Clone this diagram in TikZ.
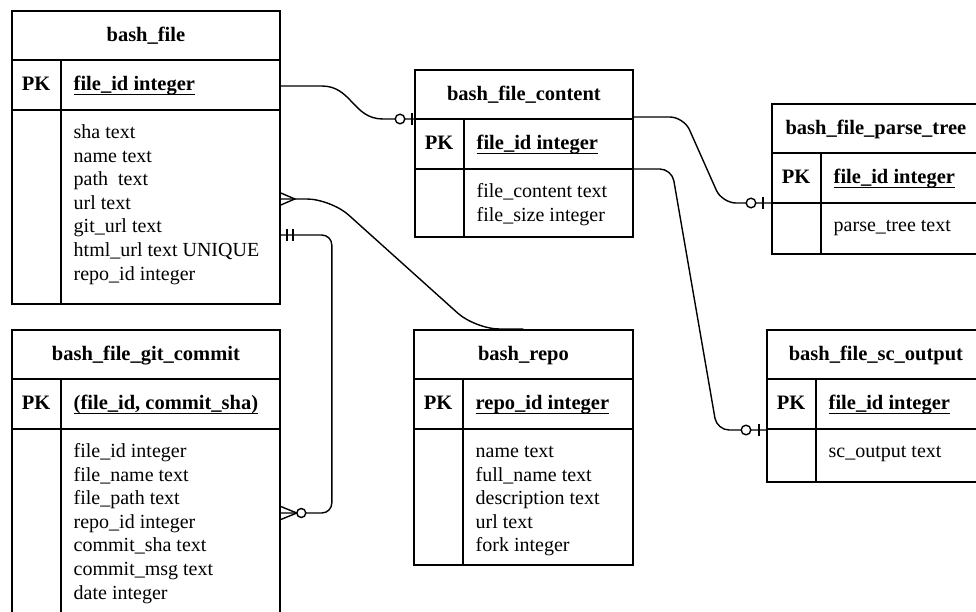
\documentclass[tikz,border=0pt]{standalone}
\usepackage{fontspec}
\setmainfont{Liberation Serif}
\usetikzlibrary{calc}
\tikzset{
  tbl/.style={draw, line width=1.8pt, inner sep=0pt, anchor=north west, fill=white},
  tline/.style={line width=1.8pt},
  ttl/.style={inner sep=0pt, anchor=base, font=\fontsize{20.5}{24}\selectfont\bfseries},
  pkf/.style={inner sep=0pt, anchor=base west, font=\fontsize{20.5}{24}\selectfont\bfseries},
  fld/.style={inner sep=0pt, anchor=base west, font=\fontsize{20}{24}\selectfont},
  conn/.style={line width=1.4pt},
  uline/.style={line width=1.4pt},
}
\newcommand\ertable[8]{%
  \node[tbl, minimum width=#4, minimum height=#5] (#1) at (#2,#3) {};
  \draw[tline] ([yshift=-50pt]#1.north west) -- ([yshift=-50pt]#1.north east);
  \draw[tline] ([yshift=-100pt]#1.north west) -- ([yshift=-100pt]#1.north east);
  \draw[tline] ([xshift=50pt,yshift=-50pt]#1.north west) -- ([xshift=50pt]#1.south west);
  \node[ttl] (#1-t) at ([yshift=-31.5pt]#1.north) {#6};
  \node[ttl] (#1-pk) at ([xshift=25pt,yshift=-80.5pt]#1.north west) {PK};
  \node[pkf] (#1-k) at ([xshift=62.5pt,yshift=-80.5pt]#1.north west) {#7};
  \draw[uline] ([yshift=-4pt]#1-k.base west) -- ([yshift=-4pt]#1-k.base east);
  \foreach \l [count=\i] in {#8}
    \node[fld] (#1-f\i) at ([xshift=62.5pt,yshift={-128.5pt-(\i-1)*23.6pt}]#1.north west) {\l};
}
\begin{document}
\begin{tikzpicture}[x=1pt,y=-1pt]
\useasboundingbox (0,0) rectangle (976,612);
\fill[white] (0,0) rectangle (976,612);
\clip (0,0) rectangle (976,612);

\ertable{bf}{11}{10}{268}{293}{bash\_file}{file\_id integer}{sha text, name text, path\ \ text, url text, git\_url text, html\_url text UNIQUE, repo\_id integer}
\ertable{bfc}{414}{69}{218}{167}{bash\_file\_content}{file\_id integer}{file\_content text, file\_size integer}
\ertable{bfp}{771}{103}{208}{150}{bash\_file\_parse\_tree}{file\_id integer}{parse\_tree text}
\ertable{bfg}{11}{329}{268}{320}{bash\_file\_git\_commit}{(file\_id, commit\_sha)}{file\_id integer, file\_name text, file\_path text, repo\_id integer, commit\_sha text, commit\_msg text, date integer}
\ertable{br}{413}{329}{219}{235}{bash\_repo}{repo\_id integer}{name text, full\_name text, description text, url text, fork integer}
\ertable{bfs}{766}{329}{218}{152}{bash\_file\_sc\_output}{file\_id integer}{sc\_output text}

% bash_file -> bash_file_content (zero or one)
\coordinate (c1s) at ([yshift=-76pt]bf.north east);
\coordinate (c1e) at ([yshift=-50pt]bfc.north west);
\draw[conn] (c1s) -- ([xshift=41pt]c1s) .. controls +(30,0) and +(-30,0) .. ([xshift=-31pt]c1e) -- ([xshift=6pt]c1e);
\draw[conn, fill=white] ([xshift=-14pt]c1e) circle (4.8pt);
\draw[conn] ([xshift=-2pt,yshift=6pt]c1e) -- ([xshift=-2pt,yshift=-6pt]c1e);

% bash_file_content -> bash_file_parse_tree
\coordinate (c2s) at ([yshift=-48pt]bfc.north east);
\coordinate (c2e) at ([yshift=-100pt]bfp.north west);
\draw[conn, rounded corners=14pt] (c2s) -- ([xshift=50pt]c2s) -- ([xshift=-49pt]c2e) -- (c2e);
\draw[conn, fill=white] ([xshift=-20pt]c2e) circle (4.8pt);
\draw[conn] ([xshift=-8pt,yshift=6pt]c2e) -- ([xshift=-8pt,yshift=-6pt]c2e);

% bash_file_content -> bash_file_sc_output
\coordinate (c3s) at ([yshift=-100pt]bfc.north east);
\coordinate (c3e) at ([yshift=-101pt]bfs.north west);
\draw[conn, rounded corners=12pt] (c3s) -- ([xshift=38pt]c3s) -- ([xshift=-49pt]c3e) -- (c3e);
\draw[conn, fill=white] ([xshift=-20pt]c3e) circle (4.8pt);
\draw[conn] ([xshift=-7pt,yshift=6pt]c3e) -- ([xshift=-7pt,yshift=-6pt]c3e);

% bash_file (many) -> bash_repo
\coordinate (c4s) at ([yshift=-189pt]bf.north east);
\draw[conn, rounded corners=24pt] (c4s) -- ([xshift=50pt]c4s) -- ([xshift=-48pt]br.north) -- (br.north);
\draw[conn] ([yshift=6pt]c4s) -- ([xshift=14pt]c4s) -- ([yshift=-6pt]c4s);

% bash_file (one and only one) -> bash_file_git_commit (zero or many)
\coordinate (c5s) at ([yshift=-225pt]bf.north east);
\coordinate (c5e) at ([yshift=-184pt]bfg.north east);
\draw[conn, rounded corners=10pt] (c5s) -- ([xshift=51pt]c5s) -- ([xshift=51pt]c5e) -- (c5e);
\draw[conn] ([xshift=6pt,yshift=6pt]c5s) -- ([xshift=6pt,yshift=-6pt]c5s);
\draw[conn] ([xshift=12pt,yshift=6pt]c5s) -- ([xshift=12pt,yshift=-6pt]c5s);
\draw[conn] ([yshift=6.5pt]c5e) -- ([xshift=16pt]c5e) -- ([yshift=-6.5pt]c5e);
\draw[conn, fill=white] ([xshift=20.5pt]c5e) circle (4.5pt);
\end{tikzpicture}
\end{document}
